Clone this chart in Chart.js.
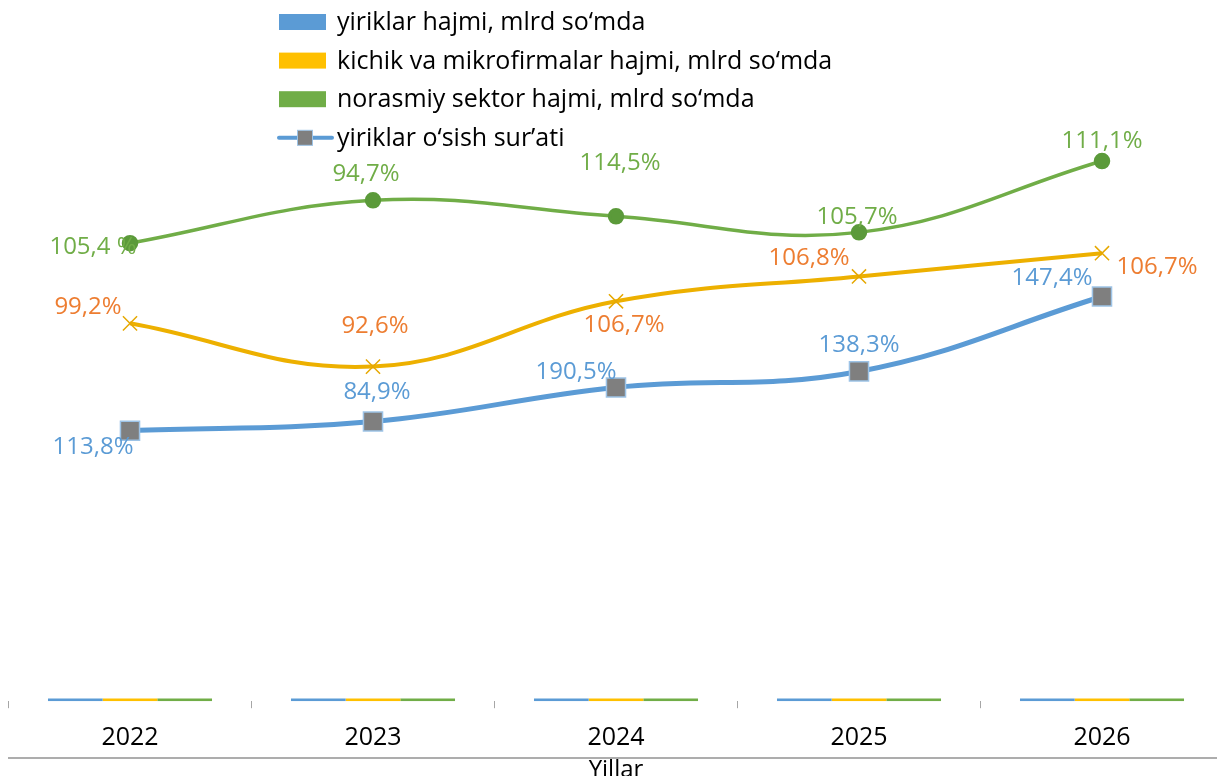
<!DOCTYPE html>
<html>
<head>
<meta charset="utf-8">
<script src="https://cdn.jsdelivr.net/npm/chart.js@4.4.1/dist/chart.umd.min.js"></script>
<style>
    html, body { margin: 0; padding: 0; background: #fff; overflow: hidden; }
    #wrap { width: 1232px; height: 789px; }
</style>
</head>
<body>
<div id="wrap"><canvas id="char_growth" width="1232" height="789"></canvas></div>
<script>
var years = ["2022", "2023", "2024", "2025", "2026"];

// hajmlar (ustunlar) - rasmda deyarli nolga teng
var largeVolume = [0.7, 0.7, 0.7, 0.7, 0.7];
var smallVolume = [0.7, 0.7, 0.7, 0.7, 0.7];
var informalVolume = [0.7, 0.7, 0.7, 0.7, 0.7];

// chiziqlar (yashirin o'qdagi nisbiy qiymatlar)
var largeLine = [67.5, 69.8, 78.3, 82.3, 101];
var smallLine = [94.3, 83.5, 99.8, 106, 111.8];
var informalLine = [114.3, 125, 121, 117, 134.8];

// o'sish sur'atlari (yorliqlar)
var largeRate = ["113,8%", "84,9%", "190,5%", "138,3%", "147,4%"];
var smallRate = ["99,2%", "92,6%", "106,7%", "106,8%", "106,7%"];
var informalRate = ["105,4 %", "94,7%", "114,5%", "105,7%", "111,1%"];

var FONT = "'Open Sans', 'Noto Sans', sans-serif";

// yorliqlarni nuqta yoniga chizish
var rateLabels = {
    id: "rateLabels",
    afterDatasetsDraw: function (chart) {
        var ctx = chart.ctx;
        ctx.save();
        ctx.font = "24px " + FONT;
        ctx.textAlign = "center";
        ctx.textBaseline = "middle";
        chart.data.datasets.forEach(function (ds, i) {
            if (!ds.rateText) return;
            var meta = chart.getDatasetMeta(i);
            ctx.fillStyle = ds.rateColor;
            meta.data.forEach(function (pt, j) {
                var off = ds.rateOffset[j];
                ctx.fillText(ds.rateText[j], pt.x + off[0], pt.y + off[1]);
            });
        });
        ctx.restore();
    },
};

// legenda: avval ustunlar, keyin yiriklar chizig'i
var sideLegend = {
    id: "sideLegend",
    afterDraw: function (chart) {
        var ctx = chart.ctx;
        var x0 = 279;
        var y = 22;
        var items = chart.data.datasets.filter(function (ds) {
            return ds.type === "bar";
        }).concat(chart.data.datasets.filter(function (ds) {
            return ds.type === "line" && ds.inLegend !== false;
        }));
        ctx.save();
        ctx.font = "25px " + FONT;
        ctx.textBaseline = "middle";
        items.forEach(function (ds) {
            if (ds.type === "bar") {
                ctx.fillStyle = ds.backgroundColor;
                ctx.fillRect(x0, y - 8, 47, 16);
            } else {
                ctx.strokeStyle = ds.borderColor;
                ctx.lineWidth = 4;
                ctx.lineCap = "round";
                ctx.beginPath();
                ctx.moveTo(x0, y);
                ctx.lineTo(x0 + 53, y);
                ctx.stroke();
                ctx.fillStyle = ds.pointBackgroundColor;
                ctx.fillRect(x0 + 18.5, y - 7.5, 15, 15);
                ctx.strokeStyle = ds.pointBorderColor;
                ctx.lineWidth = 1;
                ctx.strokeRect(x0 + 18.5, y - 7.5, 15, 15);
            }
            ctx.fillStyle = "#000";
            ctx.fillText(ds.label, x0 + 58, y + 1);
            y += 38.6;
        });
        ctx.restore();
    },
};

var canvas = document.getElementById("char_growth");
if (canvas != null) {
    var ctx = canvas.getContext("2d");
    var myChart = new Chart(ctx, {
        data: {
            labels: years,
            datasets: [
                {
                    type: "line",
                    label: "yiriklar o‘sish sur’ati",
                    data: largeLine,
                    yAxisID: "y",
                    borderColor: "#5B9BD5",
                    borderWidth: 5,
                    tension: 0.4,
                    pointStyle: "rect",
                    pointRadius: 13.5,
                    pointBackgroundColor: "#7F7F7F",
                    pointBorderColor: "#9DC3E6",
                    pointBorderWidth: 1.5,
                    rateText: largeRate,
                    rateColor: "#5B9BD5",
                    rateOffset: [[-37, 16], [4, -29], [-40, -15], [0, -26], [-50, -18]],
                },
                {
                    type: "line",
                    label: "kichik o‘sish sur’ati",
                    inLegend: false,
                    data: smallLine,
                    yAxisID: "y",
                    borderColor: "#EDB000",
                    borderWidth: 4,
                    tension: 0.4,
                    pointStyle: "crossRot",
                    pointRadius: 10,
                    pointBorderColor: "#E6A800",
                    pointBorderWidth: 1.5,
                    rateText: smallRate,
                    rateColor: "#ED7D31",
                    rateOffset: [[-42, -16], [2, -40], [8, 24], [-50, -18], [55, 14]],
                },
                {
                    type: "line",
                    label: "norasmiy o‘sish sur’ati",
                    inLegend: false,
                    data: informalLine,
                    yAxisID: "y",
                    borderColor: "#70AD47",
                    borderWidth: 3.5,
                    tension: 0.4,
                    pointStyle: "circle",
                    pointRadius: 6.5,
                    pointBackgroundColor: "#5B9A3A",
                    pointBorderColor: "#5B9A3A",
                    rateText: informalRate,
                    rateColor: "#70AD47",
                    rateOffset: [[-37, 4], [-7, -26], [4, -53], [-2, -15], [0, -20]],
                },
                {
                    type: "bar",
                    label: "yiriklar hajmi, mlrd so‘mda",
                    data: largeVolume,
                    yAxisID: "y",
                    backgroundColor: "#5B9BD5",
                    barPercentage: 1,
                    categoryPercentage: 0.675,
                },
                {
                    type: "bar",
                    label: "kichik va mikrofirmalar hajmi, mlrd so‘mda",
                    data: smallVolume,
                    yAxisID: "y",
                    backgroundColor: "#FFC000",
                    barPercentage: 1,
                    categoryPercentage: 0.675,
                },
                {
                    type: "bar",
                    label: "norasmiy sektor hajmi, mlrd so‘mda",
                    data: informalVolume,
                    yAxisID: "y",
                    backgroundColor: "#70AD47",
                    barPercentage: 1,
                    categoryPercentage: 0.675,
                },
            ],
        },
        options: {
            responsive: false,
            animation: false,
            layout: {
                autoPadding: false,
                padding: { top: 20, left: 8.5, right: 8.5, bottom: 0 },
            },
            plugins: {
                legend: { display: false },
                tooltip: { enabled: false },
            },
            scales: {
                y: {
                    display: false,
                    min: 0,
                    max: 170,
                },
                x: {
                    position: "bottom",
                    afterFit: function (scale) {
                        scale.height = 57;
                    },
                    grid: {
                        display: true,
                        drawOnChartArea: false,
                        drawTicks: true,
                        tickLength: 7,
                        tickColor: "#A6A6A6",
                        offset: true,
                    },
                    border: { display: false },
                    ticks: {
                        color: "#000",
                        padding: 15,
                        font: { family: FONT, size: 25 },
                    },
                },
                x2: {
                    type: "category",
                    position: "bottom",
                    grid: { display: false, drawTicks: false },
                    border: { display: true, color: "#ADADAD", width: 2 },
                    ticks: { display: false },
                    title: {
                        display: true,
                        text: "Yillar",
                        color: "#000",
                        font: { family: FONT, size: 24 },
                        padding: { top: -2, bottom: 4 },
                    },
                },
            },
        },
        plugins: [rateLabels, sideLegend],
    });
}
</script>
</body>
</html>
